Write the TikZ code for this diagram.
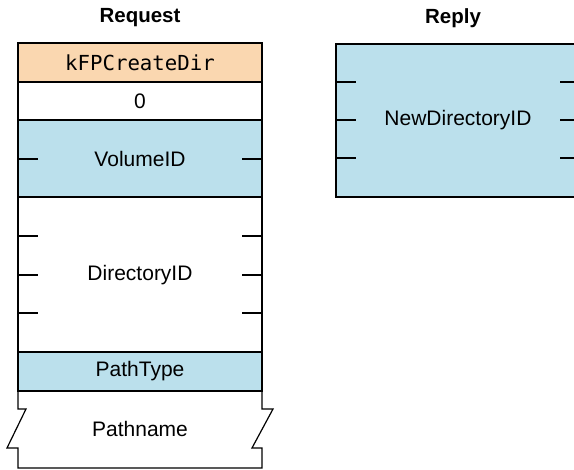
\documentclass[tikz,border=0pt]{standalone}
\usepackage{fontspec}
\setmainfont{Liberation Sans}
\setmonofont{DejaVu Sans Mono}

\definecolor{cmdorange}{RGB}{250,215,176}
\definecolor{fieldblue}{RGB}{187,224,236}

\begin{document}
\begin{tikzpicture}[x=1pt, y=-1pt, line width=1.2pt,
    fieldtext/.style={inner sep=0pt, font=\fontsize{21}{25}\selectfont},
    headtext/.style={inner sep=0pt, font=\bfseries\fontsize{20.5}{24}\selectfont}]

% Define field edges
\def\reqL{18}
\def\reqR{262}
\def\repL{336}
\def\repR{580}
\def\tick{20}

% --- Page frame, the reply block runs off its right edge ---
\path[use as bounding box, clip] (0,0) rectangle (574,470);

% --- Request fields, top to bottom ---
\path[fill=cmdorange, draw] (\reqL,43) rectangle (\reqR,82);
\path[draw] (\reqL,82) rectangle (\reqR,120);
\path[fill=fieldblue, draw] (\reqL,120) rectangle (\reqR,197);
\path[draw] (\reqL,197) rectangle (\reqR,352);
\path[fill=fieldblue, draw] (\reqL,352) rectangle (\reqR,391);

% Pathname: variable length, so both sides are broken
\draw (\reqL,391) -- (\reqL,409) -- (26,409) -- (7,448) -- (\reqL,448)
  -- (\reqL,468) -- (\reqR,468) -- (\reqR,448) -- (252,448) -- (273,409)
  -- (\reqR,409) -- (\reqR,391);

% Byte ticks
\draw (\reqL,159) -- ++(\tick,0);
\draw (\reqR,159) -- ++(-\tick,0);
\foreach \y in {236,275,313} {
  \draw (\reqL,\y) -- ++(\tick,0);
  \draw (\reqR,\y) -- ++(-\tick,0);
}

% --- Reply field ---
\path[fill=fieldblue, draw] (\repL,44) rectangle (\repR,197);
\foreach \y in {82,120,158} {
  \draw (\repL,\y) -- ++(\tick,0);
  \draw (\repR,\y) -- ++(-\tick,0);
}

% --- Labels ---
\node[headtext] (reqtitle) at (140,18) {Request};
\node[headtext] (reptitle) at (453,18) {Reply};

\node[fieldtext] (command) at (140,63) {\ttfamily\fontsize{20.7}{25}\selectfont kFPCreateDir};
\node[fieldtext] (pad) at (140,101) {0};
\node[fieldtext] (volume) at (140,159) {VolumeID};
\node[fieldtext] (dirid) at (140,275) {DirectoryID};
\node[fieldtext] (pathtype) at (140,371) {PathType};
\node[fieldtext] (pathname) at (140,429) {Pathname};
\node[fieldtext] (newdir) at (458,120) {NewDirectoryID};

\end{tikzpicture}
\end{document}
